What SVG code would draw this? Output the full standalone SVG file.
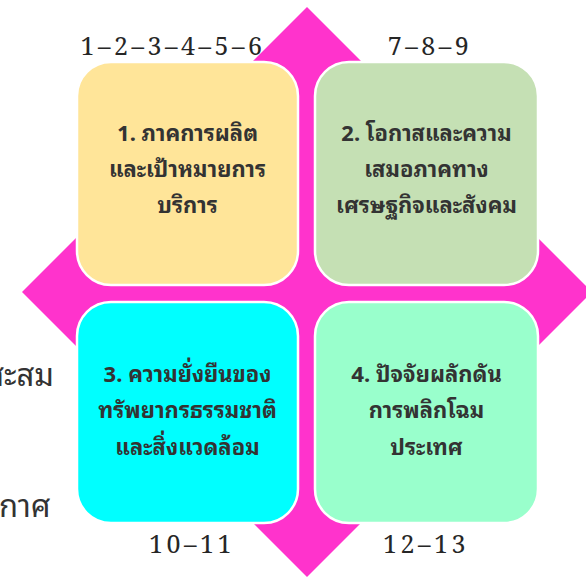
<svg xmlns="http://www.w3.org/2000/svg" width="586" height="578" viewBox="0 0 586 578">
<style>
.box{stroke:#ffffff;stroke-width:2.5}
.lbl{font-family:"Noto Sans Thai Looped","Noto Sans Thai","Noto Sans",sans-serif;font-weight:bold;font-size:22px;fill:#333333;text-anchor:middle}
.num{font-family:"Noto Serif","Noto Serif Thai","Liberation Serif",serif;font-size:25px;fill:#262626;text-anchor:middle;letter-spacing:3.5px}
.side{font-family:"Noto Sans Thai Looped","Noto Sans Thai","Noto Sans",sans-serif;font-size:31px;fill:#333333}
</style>
<rect width="586" height="578" fill="#ffffff"/>
<g id="diamond">
<polygon points="307,7 592,292 307,577 22,292" fill="#ff33cc"/>
</g>
<g id="connectors"></g>
<g id="side-texts">
<text class="side" x="54" y="386" text-anchor="end">สะสม</text>
<text class="side" x="-1" y="517">กาศ</text>
</g>
<g id="node1">
<rect class="box" x="77" y="62" width="221" height="223" rx="34" fill="#ffe599"/>
<text class="lbl" x="187.5" y="141">1. ภาคการผลิต</text>
<text class="lbl" x="187.5" y="177">และเป้าหมายการ</text>
<text class="lbl" x="187.5" y="213">บริการ</text>
</g>
<g id="node2">
<rect class="box" x="315" y="62" width="223" height="223" rx="34" fill="#c5e0b4"/>
<text class="lbl" x="426.5" y="141">2. โอกาสและความ</text>
<text class="lbl" x="426.5" y="177">เสมอภาคทาง</text>
<text class="lbl" x="426.5" y="213">เศรษฐกิจและสังคม</text>
</g>
<g id="node3">
<rect class="box" x="77" y="302" width="221" height="221" rx="34" fill="#00ffff"/>
<text class="lbl" x="187.5" y="382">3. ความยั่งยืนของ</text>
<text class="lbl" x="187.5" y="418">ทรัพยากรธรรมชาติ</text>
<text class="lbl" x="187.5" y="455">และสิ่งแวดล้อม</text>
</g>
<g id="node4">
<rect class="box" x="315" y="302" width="223" height="221" rx="34" fill="#99ffcc"/>
<text class="lbl" x="426.5" y="382">4. ปัจจัยผลักดัน</text>
<text class="lbl" x="426.5" y="418">การพลิกโฉม</text>
<text class="lbl" x="426.5" y="455">ประเทศ</text>
</g>
<g id="numbers">
<text class="num" x="173" y="55">1–2–3–4–5–6</text>
<text class="num" x="430" y="55">7–8–9</text>
<text class="num" x="192" y="553">10–11</text>
<text class="num" x="426" y="553">12–13</text>
</g>
</svg>
